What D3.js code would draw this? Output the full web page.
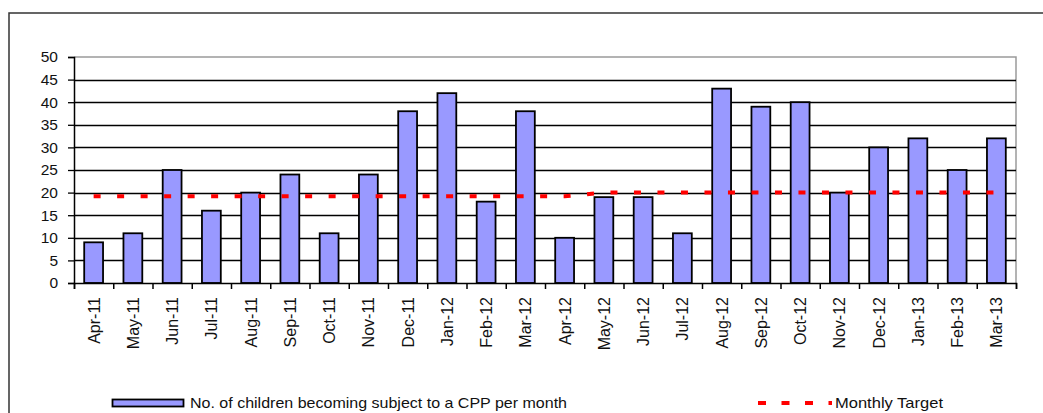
<!DOCTYPE html>
<html lang="en">
<head>
<meta charset="utf-8">
<title>CPP per month</title>
<script src="https://cdnjs.cloudflare.com/ajax/libs/d3/7.8.5/d3.min.js"></script>
<style>
  html, body { margin: 0; padding: 0; background: #fff; }
  svg { display: block; font-family: "Liberation Sans", Arial, sans-serif; }
</style>
</head>
<body>
<div id="chart"></div>
<script>
// data
const months = ["Apr-11","May-11","Jun-11","Jul-11","Aug-11","Sep-11","Oct-11","Nov-11",
  "Dec-11","Jan-12","Feb-12","Mar-12","Apr-12","May-12","Jun-12","Jul-12","Aug-12",
  "Sep-12","Oct-12","Nov-12","Dec-12","Jan-13","Feb-13","Mar-13"];
const children = [9, 11, 25, 16, 20, 24, 11, 24, 38, 42, 18, 38, 10, 19, 19, 11, 43, 39, 40, 20, 30, 32, 25, 32];
const target = [19.2, 19.2, 19.2, 19.2, 19.2, 19.2, 19.2, 19.2, 19.2, 19.2, 19.2, 19.2, 19.2,
  20, 20, 20, 20, 20, 20, 20, 20, 20, 20, 20];
const yTicks = [0, 5, 10, 15, 20, 25, 30, 35, 40, 45, 50];
const barLabel = "No. of children becoming subject to a CPP per month";
const targetLabel = "Monthly Target";

const W = 1043, H = 413;
const margin = {top: 57, left: 74},
  width = 942,
  height = 226;

const svg = d3.select("#chart").append("svg")
  .attr("width", W)
  .attr("height", H);

// outer frame (only top and left edges show)
svg.append("path")
  .attr("d", "M9," + H + "V13H" + W)
  .attr("fill", "none")
  .attr("stroke", "#333")
  .attr("stroke-width", 1.5);

const g = svg.append("g")
  .attr("transform", "translate(" + margin.left + "," + margin.top + ")");

const x = d3.scaleBand().domain(months).range([0, width]).paddingInner(0.52).paddingOuter(0.26);
const xEdge = d3.scaleLinear().domain([0, months.length]).range([0, width]);
const y = d3.scaleLinear().domain([0, 50]).range([height, 0]);

// plot border (grey top & right)
g.append("path")
  .attr("d", "M0,0H" + width + "V" + height)
  .attr("fill", "none")
  .attr("stroke", "#9a9a9a")
  .attr("stroke-width", 1.5);

// gridlines
g.append("g")
  .selectAll("line")
  .data(yTicks.filter(d => d > 0 && d < 50))
  .join("line")
  .attr("x1", 0)
  .attr("x2", width)
  .attr("y1", d => Math.round(y(d)) + 0.5)
  .attr("y2", d => Math.round(y(d)) + 0.5)
  .attr("stroke", "#000")
  .attr("stroke-width", 1.3);

// bars
g.append("g")
  .selectAll("rect")
  .data(children)
  .join("rect")
  .attr("x", (d, i) => x(months[i]))
  .attr("width", x.bandwidth())
  .attr("y", d => y(d))
  .attr("height", d => height - y(d))
  .attr("fill", "#9999ff")
  .attr("stroke", "#000")
  .attr("stroke-width", 1.8);

// target line
const line = d3.line()
  .x((d, i) => x(months[i]) + x.bandwidth() / 2)
  .y(d => y(d));

g.append("path")
  .datum(target)
  .attr("d", line)
  .attr("fill", "none")
  .attr("stroke", "#ff0000")
  .attr("stroke-width", 4)
  .attr("stroke-dasharray", "7,16.5");

// y axis
const yAxis = g.append("g")
  .call(d3.axisLeft(y).tickValues(yTicks).tickSize(6).tickPadding(10));
yAxis.select(".domain").attr("stroke", "#000").attr("stroke-width", 1.5);
yAxis.selectAll(".tick line").attr("stroke", "#000").attr("stroke-width", 1.3);
yAxis.selectAll("text")
  .attr("font-size", "15.5px")
  .attr("font-family", "'Liberation Sans', Arial, sans-serif")
  .attr("fill", "#111");

// x axis: ticks on band edges
const xTickAxis = g.append("g")
  .attr("transform", "translate(0," + height + ")")
  .call(d3.axisBottom(xEdge).tickValues(d3.range(months.length + 1)).tickSize(6).tickFormat(""));
xTickAxis.select(".domain").attr("stroke", "#000").attr("stroke-width", 1.5);
xTickAxis.selectAll(".tick line").attr("stroke", "#000").attr("stroke-width", 1.5);

// x labels
const xAxis = g.append("g")
  .attr("transform", "translate(0," + height + ")")
  .call(d3.axisBottom(x).tickSize(0).tickPadding(0));
xAxis.select(".domain").remove();
xAxis.selectAll("text")
  .attr("font-size", "16px")
  .attr("font-family", "'Liberation Sans', Arial, sans-serif")
  .attr("fill", "#111")
  .attr("text-anchor", "end")
  .attr("dy", null)
  .attr("y", 0)
  .attr("transform", "translate(6,14) rotate(-90)");

// legend
const legend = svg.append("g");
legend.append("rect")
  .attr("x", 112.5)
  .attr("y", 399.5)
  .attr("width", 71)
  .attr("height", 7)
  .attr("fill", "#9999ff")
  .attr("stroke", "#000")
  .attr("stroke-width", 1.8);
legend.append("text")
  .attr("x", 190)
  .attr("y", 408)
  .attr("font-size", "15px")
  .attr("fill", "#111")
  .attr("textLength", 377)
  .attr("lengthAdjust", "spacingAndGlyphs")
  .text(barLabel);
legend.append("line")
  .attr("x1", 758)
  .attr("x2", 832)
  .attr("y1", 403)
  .attr("y2", 403)
  .attr("stroke", "#ff0000")
  .attr("stroke-width", 4)
  .attr("stroke-dasharray", "8,15.5");
legend.append("text")
  .attr("x", 835)
  .attr("y", 408)
  .attr("font-size", "15px")
  .attr("fill", "#111")
  .attr("textLength", 108)
  .attr("lengthAdjust", "spacingAndGlyphs")
  .text(targetLabel);
</script>
</body>
</html>
